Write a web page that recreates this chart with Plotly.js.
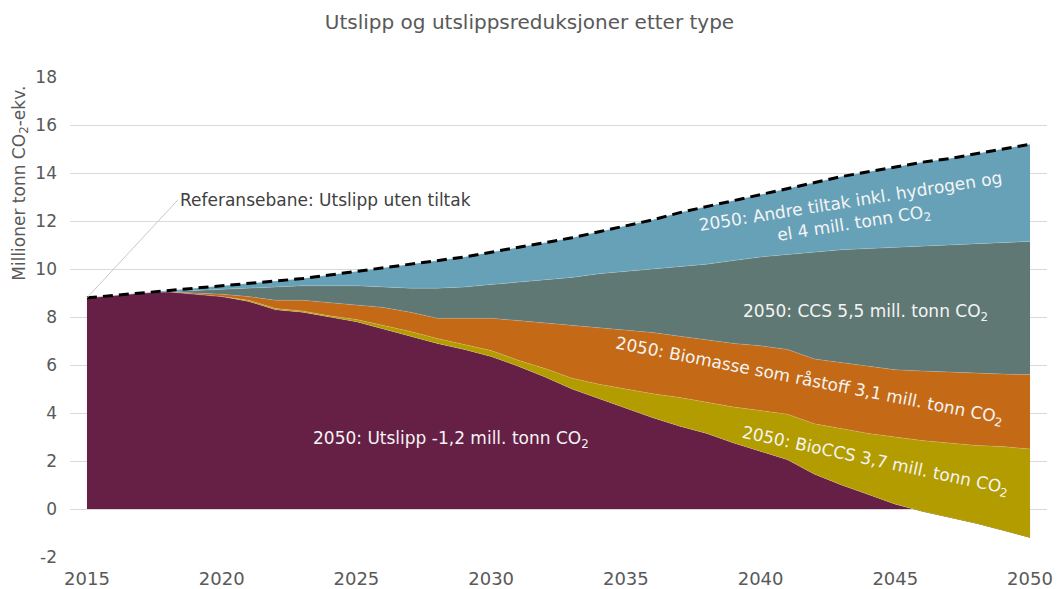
<!DOCTYPE html>
<html>
<head>
<meta charset="utf-8">
<script src="https://cdn.plot.ly/plotly-3.0.1.min.js"></script>
<style>html,body{margin:0;padding:0;background:#fff}#chart{width:1059px;height:589px}</style>
</head>
<body>
<div id="chart"></div>
<script>
const years = [2015,2016,2017,2018,2019,2020,2021,2022,2023,2024,2025,2026,2027,2028,2029,2030,2031,2032,2033,2034,2035,2036,2037,2038,2039,2040,2041,2042,2043,2044,2045,2046,2047,2048,2049,2050];
// Net emissions (Utslipp)
const utslipp = [8.8,8.9,9.0,9.05,8.95,8.85,8.65,8.3,8.2,8.0,7.8,7.5,7.2,6.9,6.65,6.35,5.95,5.5,5.0,4.6,4.2,3.8,3.45,3.15,2.75,2.4,2.05,1.45,1.0,0.6,0.2,-0.1,-0.35,-0.6,-0.9,-1.2];
// Reductions by type
const bioCCS = [0,0,0,0,0,0,0.05,0.05,0.05,0.05,0.1,0.15,0.2,0.2,0.2,0.25,0.25,0.35,0.45,0.6,0.8,1.0,1.2,1.3,1.5,1.7,1.9,2.1,2.35,2.55,2.8,2.95,3.1,3.25,3.5,3.7];
const biomasse = [0,0,0,0,0.05,0.1,0.15,0.35,0.45,0.55,0.6,0.75,0.8,0.85,1.1,1.35,1.65,1.9,2.2,2.35,2.45,2.55,2.55,2.6,2.65,2.7,2.7,2.7,2.75,2.8,2.8,2.9,2.95,3.0,3.02,3.1];
const ccs = [0,0,0,0,0.1,0.2,0.35,0.55,0.6,0.7,0.8,0.85,1.0,1.25,1.3,1.4,1.6,1.8,2.0,2.25,2.45,2.65,2.9,3.15,3.45,3.7,3.95,4.45,4.7,4.9,5.1,5.2,5.3,5.4,5.48,5.55];
const andre = [0,0,0,0.05,0.1,0.15,0.2,0.25,0.3,0.45,0.6,0.8,1.0,1.15,1.25,1.35,1.45,1.55,1.65,1.75,1.9,2.05,2.25,2.4,2.5,2.6,2.75,2.9,3.05,3.2,3.35,3.5,3.6,3.75,3.9,4.05];
// Reference path (Referansebane)
const referanse = [8.8,8.9,9.0,9.1,9.2,9.3,9.4,9.5,9.6,9.75,9.9,10.05,10.2,10.35,10.5,10.7,10.9,11.1,11.3,11.55,11.8,12.05,12.35,12.6,12.85,13.1,13.35,13.6,13.85,14.05,14.25,14.45,14.6,14.8,15.0,15.2];
const yTicks = [-2,0,2,4,6,8,10,12,14,16,18];
const yTickLabels = ['-2','0','2','4','6','8','10','12','14','16','18'];
const xTicks = [2015,2020,2025,2030,2035,2040,2045,2050];

const FONT = 'DejaVu Sans, Liberation Sans, Arial, sans-serif';
const GREY = '#595959';
function area(name, y, color){
  return {x: years, y: y, name: name, type: 'scatter', mode: 'lines', stackgroup: 'one',
    line: {width: 0.6, color: 'rgba(255,255,255,0.25)'}, fillcolor: color, hoverinfo: 'skip'};
}
const traces = [
  area('Utslipp', utslipp, '#661f45'),
  area('BioCCS', bioCCS, '#b39c00'),
  area('Biomasse som råstoff', biomasse, '#c46a16'),
  area('CCS', ccs, '#5f7874'),
  area('Andre tiltak', andre, '#67a1b8'),
  {x: years, y: referanse, name: 'Referansebane', type: 'scatter', mode: 'lines',
   line: {color: '#000', width: 3, dash: '10px,6px'}, hoverinfo: 'skip'}
];
const white = {family: FONT, size: 17, color: '#f4f4f4'};
const layout = {
  width: 1059, height: 589,
  margin: {l: 70, r: 12, t: 77, b: 32},
  paper_bgcolor: '#fff', plot_bgcolor: '#fff',
  showlegend: false,
  title: {text: 'Utslipp og utslippsreduksjoner etter type', x: 0.5, xanchor: 'center', y: 0.962, yanchor: 'middle',
          font: {family: FONT, size: 20, color: GREY}},
  xaxis: {range: [2014.37, 2050.63], tickvals: xTicks, showgrid: false, zeroline: false, showline: false,
          ticks: '', ticklabelstandoff: 9, tickfont: {family: FONT, size: 18, color: GREY}, fixedrange: true},
  yaxis: {range: [-2, 18], tickvals: yTicks, ticktext: yTickLabels, showgrid: true, gridcolor: '#d9d9d9', gridwidth: 1,
          zeroline: false, showline: false, ticks: '', ticklabelstandoff: 12,
          tickfont: {family: FONT, size: 17, color: GREY}, fixedrange: true},
  annotations: [
    {xref: 'paper', yref: 'paper', x: -0.051, y: 0.778, xanchor: 'center', yanchor: 'middle', textangle: -90,
     text: 'Millioner tonn CO<sub>2</sub>-ekv.', showarrow: false, font: {family: FONT, size: 17, color: GREY}},
    {x: years[0], y: referanse[0], xref: 'x', yref: 'y', text: 'Referansebane: Utslipp uten tiltak',
     showarrow: true, arrowhead: 0, arrowwidth: 1, arrowcolor: '#c8c8c8', ax: 91, ay: -98, xanchor: 'left',
     font: {family: FONT, size: 17, color: '#404040'}},
    {x: 2043.4, y: 12.33, text: '2050: Andre tiltak inkl. hydrogen og<br>el 4 mill. tonn CO<sub>2</sub>', showarrow: false,
     textangle: -9, font: white},
    {x: 2043.9, y: 8.2, text: '2050: CCS 5,5 mill. tonn CO<sub>2</sub>', showarrow: false, font: white},
    {x: 2041.8, y: 5.3, text: '2050: Biomasse som råstoff 3,1 mill. tonn CO<sub>2</sub>', showarrow: false,
     textangle: 11, font: white},
    {x: 2044.25, y: 1.96, text: '2050: BioCCS 3,7 mill. tonn CO<sub>2</sub>', showarrow: false,
     textangle: 12, font: white},
    {x: 2028.5, y: 2.9, text: '2050: Utslipp -1,2 mill. tonn CO<sub>2</sub>', showarrow: false, font: white}
  ]
};
Plotly.newPlot('chart', traces, layout, {displayModeBar: false, staticPlot: true});
</script>
</body>
</html>
